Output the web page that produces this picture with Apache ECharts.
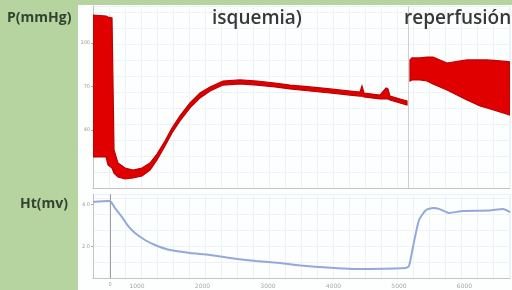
<!DOCTYPE html>
<html>
<head>
<meta charset="utf-8">
<script src="https://cdn.jsdelivr.net/npm/echarts@6.0.0/dist/echarts.min.js"></script>
<style>
  html, body { margin: 0; padding: 0; background: #b5d4a0; }
  #chart { width: 512px; height: 290px; }
</style>
</head>
<body>
<div id="chart"></div>
<script>
// time (s) shared by both traces
const isqTime = [328, 527, 557, 618, 649, 710, 817, 939, 1076, 1198, 1305, 1427, 1534, 1656, 1809, 1962, 2115, 2313, 2573, 2832, 3107, 3336, 3641, 3947, 4252, 4405, 4435, 4466, 4710, 4802, 4832, 4863, 5015, 5122];
// pressure envelope, mmHg
const isqLow = [21.4, 21.4, 15.9, 13.8, 10.3, 7.6, 6.2, 6.9, 8.3, 12.4, 19.3, 29.0, 37.9, 46.2, 55.2, 62.1, 66.9, 71.0, 71.7, 71.0, 69.7, 68.3, 66.9, 65.5, 64.1, 63.4, 63.4, 62.8, 61.4, 61.4, 61.4, 60.7, 58.6, 57.2];
const isqHigh = [119.3, 118.6, 117.9, 117.2, 26.2, 17.2, 13.8, 12.4, 13.8, 17.2, 23.4, 32.4, 41.4, 49.7, 58.6, 65.5, 69.7, 73.8, 74.5, 73.8, 72.4, 71.0, 69.7, 68.3, 66.9, 66.2, 70.3, 65.5, 64.1, 69.0, 68.3, 63.4, 61.4, 60.0];

const repTime = [5168, 5198, 5321, 5427, 5519, 5733, 6038, 6237, 6344, 6542, 6695];
const repLow = [73.8, 74.5, 74.5, 73.8, 71.7, 67.6, 60.7, 56.6, 55.2, 52.4, 50.3];
const repHigh = [88.3, 89.7, 89.7, 90.3, 90.3, 86.2, 88.3, 88.3, 88.3, 87.6, 86.9];

// Ht, mv
const htTime = [328, 557, 603, 664, 771, 863, 969, 1122, 1275, 1504, 1809, 2115, 2420, 2817, 3183, 3580, 4344, 5107, 5153, 5214, 5306, 5413, 5519, 5611, 5763, 5977, 6374, 6588, 6695];
const htValue = [4.12, 4.17, 4.12, 3.83, 3.40, 2.98, 2.64, 2.31, 2.07, 1.83, 1.69, 1.60, 1.45, 1.31, 1.21, 1.07, 0.93, 0.98, 1.07, 1.98, 3.26, 3.74, 3.83, 3.79, 3.60, 3.69, 3.71, 3.79, 3.64];

const pTicks = [40, 70, 100];
const htTicks = [2, 4];
const timeTicks = [1000, 2000, 3000, 4000, 5000, 6000];
const occlusionTime = 588;
const reperfusionTime = 5137;

const tMin = 328, tMax = 6695;
const axisGray = '#c4c4c4';
const faint = '#edf2f8';

// filled envelope: one polygon, high edge forward then low edge back
function bandSeries(times, lo, hi) {
  return {
    type: 'custom', xAxisIndex: 0, yAxisIndex: 0, silent: true, clip: true,
    data: times.map((t, i) => [t, lo[i], hi[i]]),
    encode: { x: 0, y: [1, 2] },
    renderItem: (params, api) => {
      if (params.dataIndex !== 0) return;
      const top = times.map((t, i) => api.coord([t, hi[i]]));
      const bottom = times.map((t, i) => api.coord([t, lo[i]])).reverse();
      return {
        type: 'polygon',
        shape: { points: top.concat(bottom) },
        style: { fill: '#e00000', stroke: '#bb0000', lineWidth: 1.2 }
      };
    }
  };
}

const chart = echarts.init(document.getElementById('chart'));

chart.setOption({
  animation: false,
  backgroundColor: '#b5d4a0',
  grid: [
    { left: 93, top: 6, width: 417, height: 182 },
    { left: 93, top: 194, width: 417, height: 84 }
  ],
  xAxis: [
    {
      gridIndex: 0, type: 'value', min: tMin, max: tMax,
      axisLine: { onZero: false, lineStyle: { color: axisGray } },
      axisTick: { show: false }, axisLabel: { show: false }, splitLine: { show: false }
    },
    {
      gridIndex: 1, type: 'value', min: tMin, max: tMax,
      axisLine: { onZero: false, lineStyle: { color: axisGray } },
      axisTick: { show: false },
      axisLabel: { customValues: timeTicks, fontSize: 6, color: '#a8a8a8', margin: 5, fontFamily: 'DejaVu Sans',
        formatter: v => String(v) },
      splitLine: { show: false }
    },
    // faint background grid
    {
      gridIndex: 0, type: 'value', min: 0, max: 417, interval: 16,
      axisLine: { show: false }, axisTick: { show: false }, axisLabel: { show: false },
      splitLine: { lineStyle: { color: faint } }
    },
    {
      gridIndex: 1, type: 'value', min: 0, max: 417, interval: 16,
      axisLine: { show: false }, axisTick: { show: false }, axisLabel: { show: false },
      splitLine: { lineStyle: { color: faint } }
    }
  ],
  yAxis: [
    {
      gridIndex: 0, type: 'value', min: 0, max: 125.5,
      axisLine: { show: true, onZero: false, lineStyle: { color: axisGray } },
      axisTick: { show: true, customValues: pTicks, length: 2, lineStyle: { color: '#aaa' } },
      axisLabel: { customValues: pTicks, fontSize: 5, color: '#9a9a9a', margin: 3, fontFamily: 'DejaVu Sans' },
      splitLine: { show: false }
    },
    {
      gridIndex: 1, type: 'value', min: 0.5, max: 4.5,
      axisLine: { show: true, onZero: false, lineStyle: { color: axisGray } },
      axisTick: { show: true, customValues: htTicks, length: 2, lineStyle: { color: '#aaa' } },
      axisLabel: { customValues: htTicks, fontSize: 5, color: '#9a9a9a', margin: 3, fontFamily: 'DejaVu Sans',
        formatter: v => v.toFixed(1) },
      splitLine: { show: false }
    },
    {
      gridIndex: 0, type: 'value', min: 0, max: 182, interval: 16, position: 'right',
      axisLine: { show: false }, axisTick: { show: false }, axisLabel: { show: false },
      splitLine: { lineStyle: { color: faint } }
    },
    {
      gridIndex: 1, type: 'value', min: 0, max: 84, interval: 16, position: 'right',
      axisLine: { show: false }, axisTick: { show: false }, axisLabel: { show: false },
      splitLine: { lineStyle: { color: faint } }
    }
  ],
  series: [
    bandSeries(isqTime, isqLow, isqHigh),
    bandSeries(repTime, repLow, repHigh),
    {
      // separator between ischemia and reperfusion
      type: 'line', xAxisIndex: 0, yAxisIndex: 0, data: [],
      markLine: {
        silent: true, symbol: ['none', 'none'], label: { show: false },
        lineStyle: { color: '#cfcfcf', type: 'solid', width: 1 },
        data: [{ xAxis: reperfusionTime }]
      }
    },
    {
      type: 'line', xAxisIndex: 1, yAxisIndex: 1, symbol: 'none', smooth: 0.2,
      data: htTime.map((t, i) => [t, htValue[i]]),
      lineStyle: { color: '#93a9d9', width: 2 },
      markLine: {
        silent: true, symbol: ['none', 'none'],
        lineStyle: { color: '#a0a0a0', type: 'solid', width: 1 },
        label: { show: true, position: 'start', formatter: '0', fontSize: 5, color: '#999', distance: 4 },
        data: [{ xAxis: occlusionTime }]
      }
    }
  ],
  graphic: [
    { type: 'rect', z: -1, shape: { x: 78, y: 5, width: 434, height: 285 }, style: { fill: '#fdfefe' } },
    { type: 'text', z: 100, x: 7, y: 18,
      style: { text: 'P(mmHg)', font: 'bold 14px "Open Sans"', fill: '#34432f', verticalAlign: 'middle' } },
    { type: 'text', z: 100, x: 20, y: 204,
      style: { text: 'Ht(mv)', font: 'bold 14px "Open Sans"', fill: '#34432f', verticalAlign: 'middle' } },
    { type: 'text', z: 100, x: 212, y: 19,
      style: { text: 'isquemia)', font: '600 19px "Open Sans"', fill: '#383838', verticalAlign: 'middle' } },
    { type: 'text', z: 100, x: 404, y: 19,
      style: { text: 'reperfusión', font: '600 19px "Open Sans"', fill: '#383838', verticalAlign: 'middle' } }
  ]
});
</script>
</body>
</html>
